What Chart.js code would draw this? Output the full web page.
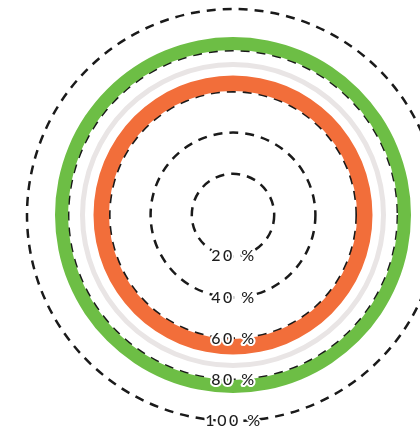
<!DOCTYPE html>
<html>
<head>
<meta charset="utf-8">
<script src="https://cdn.jsdelivr.net/npm/chart.js@4"></script>
<style>
  html, body { margin: 0; padding: 0; background: #fff; overflow: hidden; }
  #wrap { position: absolute; left: 0; top: 0; width: 466px; height: 430px; }
</style>
</head>
<body>
<div id="wrap"><canvas id="Chart1"></canvas></div>
<script>
// rings from outside to inside, each one a full circle
const ringLabels = ['Outer', 'Track', 'Inner'];
const ringValues = [100, 100, 100];

// radial scale ticks
const tickValues = [20, 40, 60, 80, 100];
const tickLabels = ['20 %', '40 %', '60 %', '80 %', '100 %'];

const ringColors = ['#6dbe45', '#e9e5e5', '#f26e3a'];
const ringWeights = [13, 5, 15.5];
const gapWeights = [12, 8.5];

// labels sit under the centre, not above it like chart.js does
const bottomTicks = {
  id: 'bottomTicks',
  afterDraw(chart) {
    const r = chart.scales.r;
    const ctx = chart.ctx;
    ctx.save();
    ctx.font = '500 16px Lato';
    ctx.letterSpacing = '2.5px';
    ctx.textAlign = 'center';
    ctx.textBaseline = 'middle';
    ctx.lineJoin = 'round';
    ctx.lineWidth = 4;
    ctx.strokeStyle = '#fff';
    ctx.fillStyle = '#1e1e1e';
    for (let i = 0; i < tickValues.length; i++) {
      const y = r.yCenter + r.getDistanceFromCenterForValue(tickValues[i]);
      ctx.strokeText(tickLabels[i], r.xCenter + 1, y);
      ctx.fillText(tickLabels[i], r.xCenter + 1, y);
    }
    ctx.restore();
  }
};

const datasets = [];
for (let i = 0; i < ringValues.length; i++) {
  datasets.push({
    label: ringLabels[i],
    data: [ringValues[i]],
    backgroundColor: ringColors[i],
    borderWidth: 0,
    weight: ringWeights[i]
  });
  if (i < gapWeights.length) {
    datasets.push({
      label: '',
      data: [100],
      backgroundColor: 'rgba(0,0,0,0)',
      borderWidth: 0,
      weight: gapWeights[i]
    });
  }
}

const ctx = document.getElementById('Chart1').getContext('2d');
const myChart = new Chart(ctx, {
  type: 'doughnut',
  data: {
    labels: ['value'],
    datasets: datasets
  },
  options: {
    responsive: true,
    maintainAspectRatio: false,
    animation: false,
    radius: 178,
    cutout: (124 / 178 * 100) + '%',
    layout: { padding: { top: 9, bottom: 9 } },
    plugins: {
      legend: { display: false },
      tooltip: { enabled: false }
    },
    scales: {
      r: {
        type: 'radialLinear',
        min: 0,
        max: 100,
        ticks: { stepSize: 20, display: false, z: 1 },
        pointLabels: { display: false },
        angleLines: { display: false },
        grid: { circular: true, color: '#1a1a1a', lineWidth: 2.5, borderDash: [9, 7] },
        border: { dash: [9, 7] }
      }
    }
  },
  plugins: [bottomTicks]
});
</script>
</body>
</html>
